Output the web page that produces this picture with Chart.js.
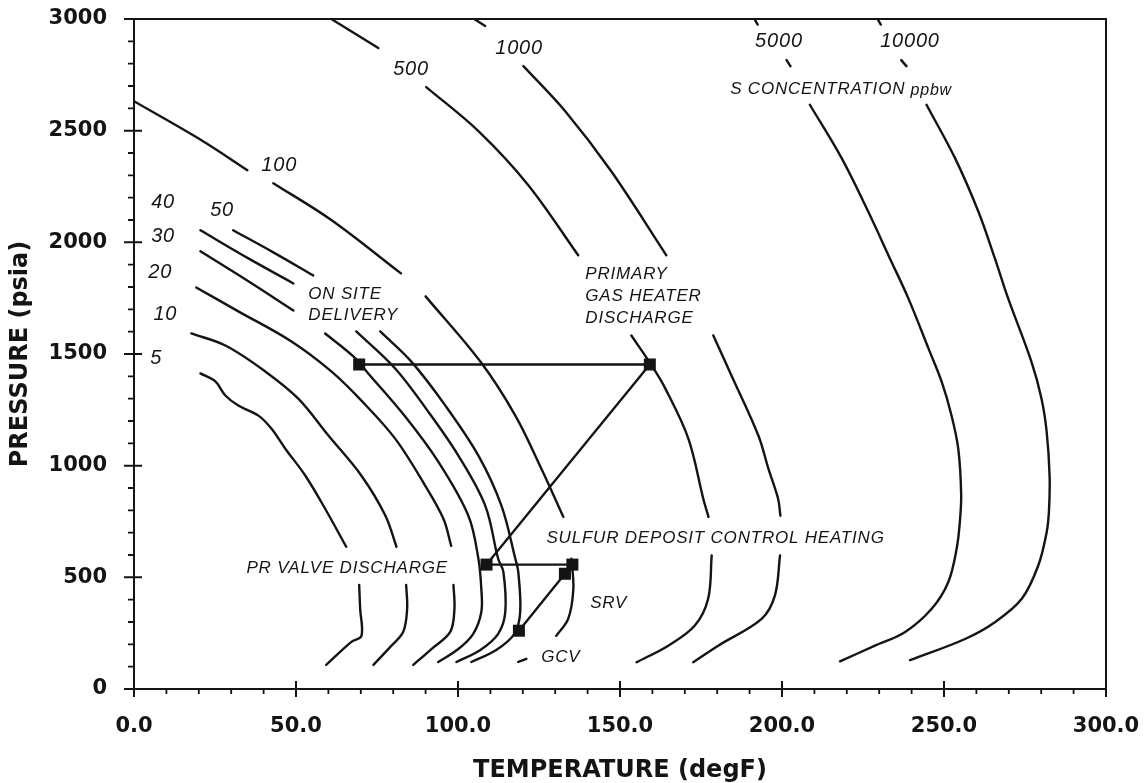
<!DOCTYPE html>
<html>
<head>
<meta charset="utf-8">
<script src="https://cdn.jsdelivr.net/npm/chart.js@4.4.0/dist/chart.umd.min.js"></script>
<style>
  html, body { margin: 0; padding: 0; background: #fff; }
  #wrap { width: 1145px; height: 783px; position: relative; }
</style>
</head>
<body>
<div id="wrap"><canvas id="c" width="1145" height="783"></canvas></div>
<script>
// Sulfur concentration contours, each point is [temperature degF, pressure psia].
// A null entry breaks the line (room left for a label).
const ppbw5 = [[20.5,1413],[25.1,1377],[28.2,1314],[32.2,1269],[38.4,1224],[42.4,1166],[46.7,1076],[52.9,955],[59.0,807],[65.5,637], null,
  [69.5,466],[69.8,359],[70.2,238],[67.1,211],[59.3,108]];
const ppbw10 = [[17.7,1592],[28.2,1538],[40.5,1422],[50.7,1300],[60.0,1135],[70.2,955],[77.6,776],[81.0,637], null,
  [84.0,466],[84.3,359],[83.1,256],[79.4,193],[73.9,108]];
const ppbw20 = [[19.2,1798],[32.2,1691],[48.6,1556],[60.9,1422],[70.2,1291],[80.6,1121],[89.9,910],[95.5,762],[97.9,641], null,
  [98.6,466],[98.9,359],[97.6,256],[91.8,179],[86.2,108]];
const ppbw30 = [[20.5,1960],[35.3,1826],[49.2,1695], null,
  [59.0,1592],[67.7,1489],[72.3,1413],[83.7,1220],[93.9,1018],[103.2,776],[106.3,583],[107.2,448],[107.2,345],[104.7,247],[100.1,179],[93.9,121]];
const ppbw40 = [[20.5,2054],[35.3,1928],[49.2,1816], null,
  [68.6,1601],[80.6,1435],[90.8,1242],[100.1,1045],[108.4,821],[112.4,583],[114.0,525],[114.6,345],[112.4,247],[106.9,175],[99.5,121]];
const ppbw50 = [[30.6,2054],[43.0,1955],[55.3,1852], null,
  [76.0,1601],[85.6,1466],[96.1,1269],[106.3,1045],[113.4,821],[117.7,583],[118.6,525],[119.2,345],[117.4,247],[111.8,175],[104.1,121]];
const ppbw100 = [[0,2632],[21.3,2453],[35.0,2323], null,
  [43.0,2265],[61.0,2099],[82.4,1861], null,
  [90.0,1758],[106.9,1466],[117.7,1224],[125.7,987],[132.5,771], null,
  [135.0,583],[135.6,448],[134.0,314],[130.3,238], null,
  [118.6,121],[121.1,135]];
const ppbw500 = [[60.9,3000],[75.4,2870], null,
  [90.2,2695],[106.3,2498],[121.7,2256],[137.1,1942], null,
  [153.5,1583],[159.4,1457],[164.0,1345],[171.1,1121],[175.7,852],[177.3,771], null,
  [178.3,598],[177.2,404],[173.1,284],[164.9,194],[155.1,120]];
const ppbw1000 = [[105.0,3000],[108.4,2969], null,
  [120.2,2789],[133.1,2587],[147.3,2318],[164.3,1942], null,
  [178.8,1583],[184.4,1404],[192.7,1135],[195.8,987],[198.8,852],[199.5,776], null,
  [199.4,598],[197.8,418],[193.7,314],[180.3,194],[172.6,120]];
const ppbw5000 = [[191.5,3000],[192.5,2975], null,
  [201.4,2816],[202.6,2789], null,
  [208.6,2616],[218.4,2377],[226.6,2138],[233.3,1928],[239.0,1749],[245.2,1525],[249.3,1375],[252.3,1226],[254.4,1076],
  [255.3,870],[254.9,750],[253.9,628],[251.3,478],[246.2,359],[237.9,254],[228.7,194],[217.9,124]];
const ppbw10000 = [[229.5,3000],[230.5,2975], null,
  [236.8,2816],[238.4,2789], null,
  [244.6,2616],[253.4,2377],[260.6,2138],[265.7,1928],[269.8,1749],[277.0,1465],[280.1,1300],[281.7,1150],
  [282.6,950],[282.4,800],[281.7,703],[279.1,553],[274.0,404],[265.7,299],[256.5,224],[239.5,129]];

// Gas conditions along the delivery path:
// on-site delivery, primary gas heater discharge, PR valve discharge,
// sulfur deposit control heating, SRV, GCV
const pathTemp = [69.5, 159.2, 108.8, 135.3, 133.0, 118.8];
const pathPress = [1453, 1453, 557, 557, 516, 261];

// Axis ticks
const xTickValues = [0, 50, 100, 150, 200, 250, 300];
const xTickLabels = ['0.0', '50.0', '100.0', '150.0', '200.0', '250.0', '300.0'];
const yTickValues = [0, 500, 1000, 1500, 2000, 2500, 3000];
const yTickLabels = ['0', '500', '1000', '1500', '2000', '2500', '3000'];

// Text written on the plot, anchored (left edge, middle) at a temperature / pressure
const notes = [
  {text: '5', t: 5.0, p: 1480, kind: 'num'},
  {text: '10', t: 6.0, p: 1677, kind: 'num'},
  {text: '20', t: 4.4, p: 1865, kind: 'num'},
  {text: '30', t: 5.3, p: 2027, kind: 'num'},
  {text: '40', t: 5.3, p: 2179, kind: 'num'},
  {text: '50', t: 23.5, p: 2143, kind: 'num'},
  {text: '100', t: 39.3, p: 2345, kind: 'num'},
  {text: '500', t: 80.0, p: 2776, kind: 'num'},
  {text: '1000', t: 111.5, p: 2870, kind: 'num'},
  {text: '5000', t: 191.7, p: 2901, kind: 'num'},
  {text: '10000', t: 230.3, p: 2901, kind: 'num'},
  {text: 'ON SITE', t: 53.8, p: 1767, kind: 'note'},
  {text: 'DELIVERY', t: 53.8, p: 1673, kind: 'note'},
  {text: 'PRIMARY', t: 139.3, p: 1857, kind: 'note'},
  {text: 'GAS HEATER', t: 139.3, p: 1758, kind: 'note'},
  {text: 'DISCHARGE', t: 139.3, p: 1659, kind: 'note'},
  {text: 'PR VALVE DISCHARGE', t: 34.7, p: 540, kind: 'note'},
  {text: 'SULFUR DEPOSIT CONTROL HEATING', t: 127.3, p: 673, kind: 'note'},
  {text: 'SRV', t: 140.8, p: 386, kind: 'note'},
  {text: 'GCV', t: 125.7, p: 143, kind: 'note'},
  {text: 'S CONCENTRATION', suffix: ' ppbw', t: 184.0, p: 2686, kind: 'note'}
];

const INK = '#141414';
const toPoints = arr => arr.map(pt => pt ? {x: pt[0], y: pt[1]} : {x: null, y: null});

const contourStyle = {
  showLine: true, borderColor: INK, borderWidth: 2.4, pointRadius: 0, pointHoverRadius: 0,
  tension: 0.35, spanGaps: false, fill: false, borderCapStyle: 'round', borderJoinStyle: 'round'
};

const contours = [ppbw5, ppbw10, ppbw20, ppbw30, ppbw40, ppbw50, ppbw100, ppbw500, ppbw1000, ppbw5000, ppbw10000];

const datasets = contours.map(c => Object.assign({data: toPoints(c)}, contourStyle));
datasets.push({
  data: pathTemp.map((t, i) => ({x: t, y: pathPress[i]})),
  showLine: true, borderColor: INK, borderWidth: 2.4, tension: 0,
  pointStyle: 'rect', pointRadius: 8.5, pointHoverRadius: 8.5,
  pointBackgroundColor: INK, pointBorderColor: INK, pointBorderWidth: 0
});

const frameAndNotes = {
  id: 'frameAndNotes',
  afterDatasetsDraw(chart) {
    const {ctx, chartArea: a, scales: {x, y}} = chart;
    ctx.save();
    ctx.strokeStyle = INK;
    ctx.lineCap = 'butt';

    // plot frame
    ctx.lineWidth = 2;
    ctx.strokeRect(a.left, a.top, a.right - a.left, a.bottom - a.top);

    // major ticks cross the axis, minor ticks point outward
    ctx.beginPath();
    for (const v of yTickValues) {
      const py = y.getPixelForValue(v);
      ctx.moveTo(a.left - 10, py); ctx.lineTo(a.left + 8, py);
    }
    for (const v of xTickValues) {
      const px = x.getPixelForValue(v);
      ctx.moveTo(px, a.bottom - 8); ctx.lineTo(px, a.bottom + 8);
    }
    ctx.stroke();
    ctx.lineWidth = 1.8;
    ctx.beginPath();
    for (let v = 100; v < 3000; v += 100) {
      if (yTickValues.includes(v)) continue;
      const py = y.getPixelForValue(v);
      ctx.moveTo(a.left - 6, py); ctx.lineTo(a.left, py);
    }
    for (let v = 10; v < 300; v += 10) {
      if (xTickValues.includes(v)) continue;
      const px = x.getPixelForValue(v);
      ctx.moveTo(px, a.bottom); ctx.lineTo(px, a.bottom + 5);
    }
    ctx.stroke();

    // labels on the plot
    ctx.fillStyle = INK;
    ctx.textAlign = 'left';
    ctx.textBaseline = 'middle';
    for (const n of notes) {
      const px = x.getPixelForValue(n.t);
      const py = y.getPixelForValue(n.p);
      ctx.font = n.kind === 'num' ? 'italic 20px "Liberation Sans", Arial, sans-serif'
                                  : 'italic 17px "Liberation Sans", Arial, sans-serif';
      ctx.letterSpacing = '0.8px';
      ctx.fillText(n.text, px, py);
      if (n.suffix) {
        const w = ctx.measureText(n.text).width;
        ctx.font = 'italic 16px "Liberation Sans", Arial, sans-serif';
        ctx.fillText(n.suffix, px + w, py + 1);
      }
    }
    ctx.restore();
  }
};

const tickFont = {family: '"DejaVu Sans", sans-serif', weight: 'bold', size: 21};
const titleFont = {family: '"DejaVu Sans", sans-serif', weight: 'bold', size: 24, lineHeight: 1};

new Chart(document.getElementById('c'), {
  type: 'scatter',
  data: {datasets},
  options: {
    responsive: false,
    animation: false,
    devicePixelRatio: 1,
    events: [],
    layout: {padding: {top: 19, right: 39, left: 0, bottom: 0}},
    plugins: {legend: {display: false}, tooltip: {enabled: false}},
    scales: {
      x: {
        type: 'linear', position: 'bottom', min: 0, max: 300,
        grid: {display: false}, border: {display: false},
        ticks: {
          stepSize: 50, autoSkip: false, maxRotation: 0, padding: 17,
          color: INK, font: tickFont,
          callback: v => xTickLabels[xTickValues.indexOf(v)] ?? ''
        },
        title: {display: true, text: 'TEMPERATURE (degF)', color: INK, font: titleFont, padding: {top: 0, bottom: 0}},
        afterFit: s => { s.height = 94; s.paddingLeft = 0; s.paddingRight = 0; }
      },
      y: {
        type: 'linear', position: 'left', min: 0, max: 3000,
        grid: {display: false}, border: {display: false},
        ticks: {
          stepSize: 500, autoSkip: false, padding: 19,
          color: INK, font: tickFont,
          callback: v => yTickLabels[yTickValues.indexOf(v)] ?? ''
        },
        title: {display: true, text: 'PRESSURE (psia)', color: INK, font: titleFont, padding: {top: 9, bottom: 0}},
        afterFit: s => { s.width = 134; s.paddingTop = 0; s.paddingBottom = 0; }
      }
    }
  },
  plugins: [frameAndNotes]
});
</script>
</body>
</html>
